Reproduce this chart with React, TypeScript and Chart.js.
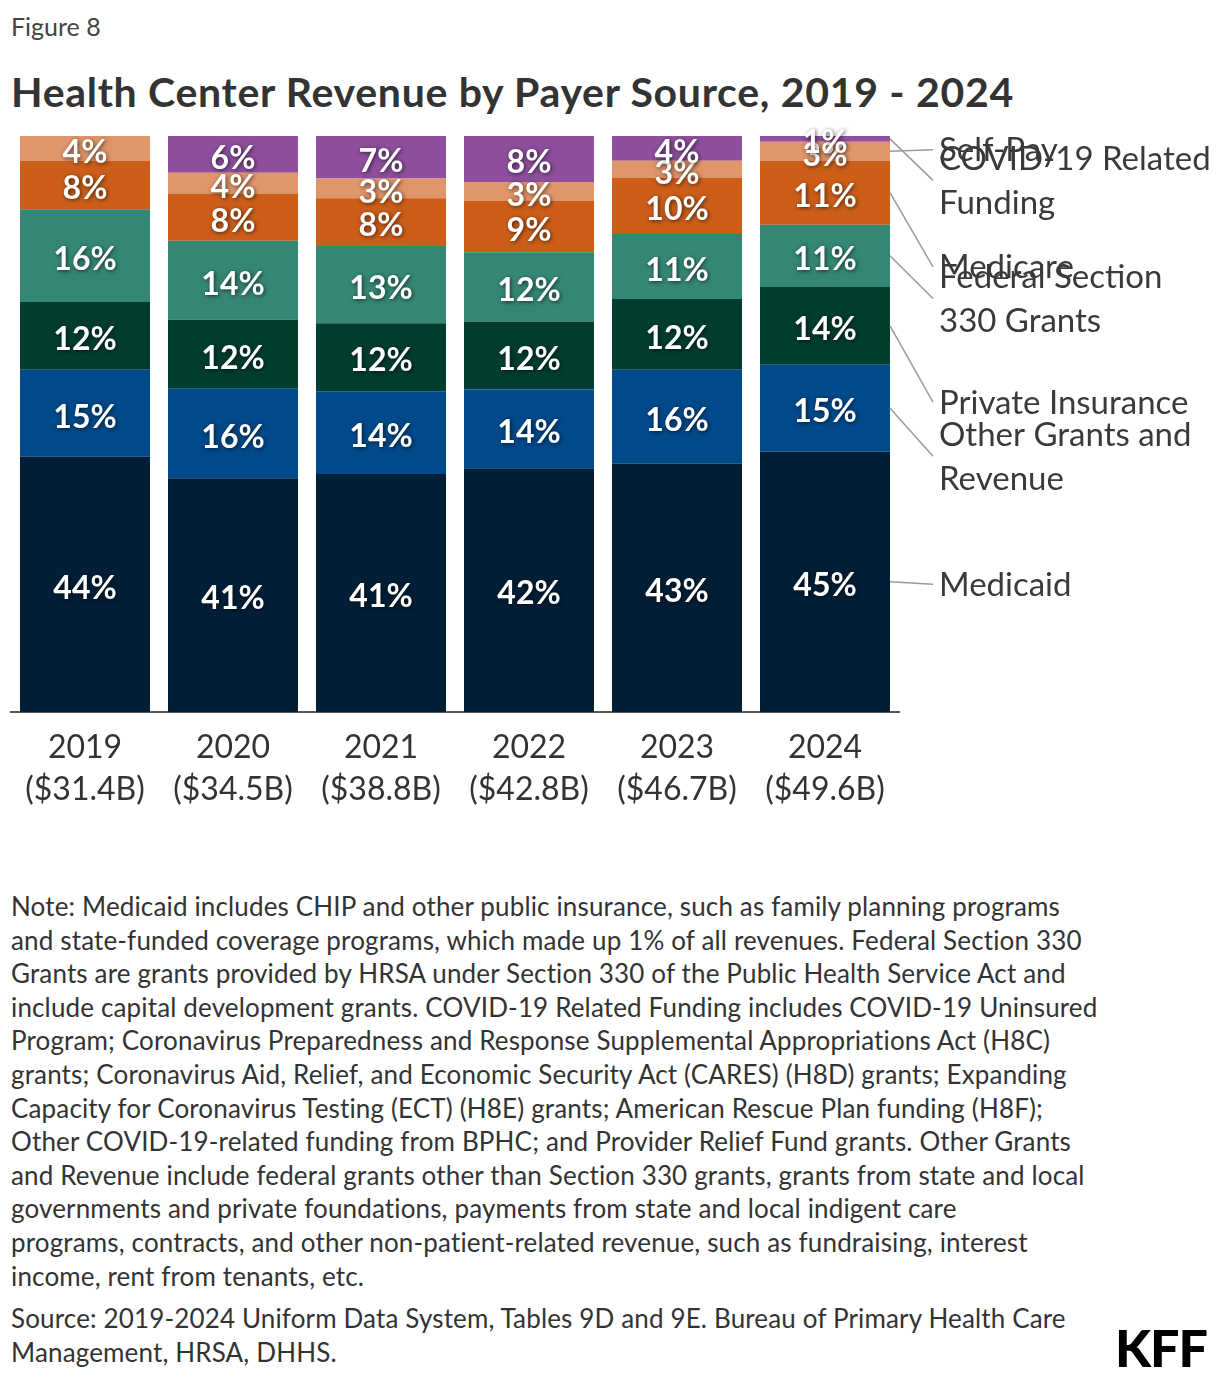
import React, { useEffect, useRef } from "react";
import { Chart, registerables } from "chart.js";

Chart.register(...registerables);

const categories = ["2019", "2020", "2021", "2022", "2023", "2024"];
const totals = ["($31.4B)", "($34.5B)", "($38.8B)", "($42.8B)", "($46.7B)", "($49.6B)"];

const medicaid = [44.3, 40.6, 41.3, 42.3, 43.1, 45.2];
const otherGrants = [15.1, 15.5, 14.4, 13.7, 16.3, 15.1];
const privateIns = [11.8, 12.0, 11.8, 11.8, 12.3, 13.5];
const federal330 = [16.1, 13.7, 13.4, 12.0, 11.3, 10.8];
const medicare = [8.4, 8.2, 8.3, 8.9, 9.7, 11.1];
const selfPay = [4.3, 3.6, 3.4, 3.3, 3.0, 3.3];
const covid = [0, 6.4, 7.4, 8.0, 4.3, 1.0];

const seriesNames = [
  ["Medicaid"],
  ["Other Grants and", "Revenue"],
  ["Private Insurance"],
  ["Federal Section", "330 Grants"],
  ["Medicare"],
  ["Self-Pay"],
  ["COVID-19 Related", "Funding"],
];
// where each side label sits, in y-axis units (percent of bar height)
const labelAnchors = [22.2, 44.4, 53.8, 71.8, 77.3, 97.6, 92.3];

const colors = ["#021f37", "#00498a", "#003d2f", "#358775", "#cc5e1a", "#e0956a", "#8e4f9d"];

const FONT = "Lato, 'Noto Sans', sans-serif";

const notes = [
  "Note: Medicaid includes CHIP and other public insurance, such as family planning programs",
  "and state-funded coverage programs, which made up 1% of all revenues. Federal Section 330",
  "Grants are grants provided by HRSA under Section 330 of the Public Health Service Act and",
  "include capital development grants. COVID-19 Related Funding includes COVID-19 Uninsured",
  "Program; Coronavirus Preparedness and Response Supplemental Appropriations Act (H8C)",
  "grants; Coronavirus Aid, Relief, and Economic Security Act (CARES) (H8D) grants; Expanding",
  "Capacity for Coronavirus Testing (ECT) (H8E) grants; American Rescue Plan funding (H8F);",
  "Other COVID-19-related funding from BPHC; and Provider Relief Fund grants. Other Grants",
  "and Revenue include federal grants other than Section 330 grants, grants from state and local",
  "governments and private foundations, payments from state and local indigent care",
  "programs, contracts, and other non-patient-related revenue, such as fundraising, interest",
  "income, rent from tenants, etc.",
];
const sourceLines = [
  "Source: 2019-2024 Uniform Data System, Tables 9D and 9E. Bureau of Primary Health Care",
  "Management, HRSA, DHHS.",
];

const valueLabels = {
  id: "valueLabels",
  afterDatasetsDraw(chart: any) {
    const ctx = chart.ctx;
    ctx.save();
    ctx.font = `bold 32px ${FONT}`;
    ctx.textAlign = "center";
    ctx.textBaseline = "middle";
    ctx.fillStyle = "#ffffff";
    ctx.shadowColor = "rgba(0,0,0,0.65)";
    ctx.shadowBlur = 4;
    ctx.shadowOffsetX = 1;
    ctx.shadowOffsetY = 1;
    chart.data.datasets.forEach((ds: any, di: number) => {
      const meta = chart.getDatasetMeta(di);
      meta.data.forEach((bar: any, i: number) => {
        const v = ds.data[i];
        if (!v) return;
        const cy = (bar.y + bar.base) / 2;
        ctx.fillText(Math.round(v) + "%", bar.x, cy + 4);
      });
    });
    ctx.restore();
  },
};

const sideLabels = {
  id: "sideLabels",
  afterDraw(chart: any) {
    const ctx = chart.ctx;
    const yScale = chart.scales.y;
    ctx.save();
    ctx.font = `33px ${FONT}`;
    ctx.textAlign = "left";
    ctx.textBaseline = "middle";
    const last = categories.length - 1;
    chart.data.datasets.forEach((ds: any, di: number) => {
      const meta = chart.getDatasetMeta(di);
      const bar: any = meta.data[last];
      if (!bar) return;
      const x0 = bar.x + bar.width / 2;
      const y0 = (bar.y + bar.base) / 2;
      const ly = yScale.getPixelForValue(labelAnchors[di]);
      const x1 = x0 + 43;
      ctx.strokeStyle = "#9a9a9a";
      ctx.lineWidth = 1.5;
      ctx.beginPath();
      ctx.moveTo(x0, y0);
      ctx.lineTo(x1, ly);
      ctx.stroke();
      const lines = seriesNames[di];
      const lh = 44;
      const startY = ly - ((lines.length - 1) * lh) / 2;
      ctx.fillStyle = "#3a3a3a";
      lines.forEach((t, k) => ctx.fillText(t, x1 + 6, startY + k * lh + 1));
    });
    ctx.restore();
  },
};

function RevenueChart() {
  const ref = useRef<HTMLCanvasElement | null>(null);
  useEffect(() => {
    if (!ref.current) return;
    const series = [medicaid, otherGrants, privateIns, federal330, medicare, selfPay, covid];
    const chart = new Chart(ref.current, {
      type: "bar",
      data: {
        labels: categories.map((c, i) => [c, totals[i]]),
        datasets: series.map((d, i) => ({
          label: seriesNames[i].join(" "),
          data: d,
          backgroundColor: colors[i],
          borderWidth: 0,
          categoryPercentage: 130 / 148,
          barPercentage: 1,
        })),
      },
      options: {
        animation: false,
        responsive: false,
        maintainAspectRatio: false,
        devicePixelRatio: 1,
        layout: { padding: { left: 11, right: 321, top: 16, bottom: 0 } },
        plugins: { legend: { display: false }, tooltip: { enabled: false } },
        scales: {
          x: {
            stacked: true,
            z: 1,
            grid: { display: false },
            border: { display: true, color: "#555555", width: 2 },
            ticks: {
              color: "#333333",
              font: { family: FONT, size: 32, lineHeight: 1.31 },
              padding: 7,
              maxRotation: 0,
            },
            afterFit: (scale: any) => {
              scale.height = 128;
            },
          },
          y: { stacked: true, display: false, min: 0, max: 100 },
        },
      } as any,
      plugins: [valueLabels, sideLabels],
    });
    return () => chart.destroy();
  }, []);
  return (
    <canvas
      ref={ref}
      width={1220}
      height={720}
      style={{ position: "absolute", left: 0, top: 120, width: 1220, height: 720 }}
    />
  );
}

export default function App() {
  return (
    <div
      style={{
        position: "absolute",
        left: 0,
        top: 0,
        width: 1220,
        height: 1380,
        background: "#ffffff",
        fontFamily: FONT,
        color: "#333333",
        overflow: "hidden",
      }}
    >
      <div style={{ position: "absolute", left: 11, top: 11, fontSize: 25, lineHeight: "30px", color: "#444" }}>
        Figure 8
      </div>
      <div
        style={{
          position: "absolute",
          left: 11,
          top: 68,
          fontSize: 41,
          lineHeight: "48px",
          fontWeight: 700,
          color: "#333",
          whiteSpace: "nowrap",
          letterSpacing: 0.7,
        }}
      >
        Health Center Revenue by Payer Source, 2019 - 2024
      </div>
      <RevenueChart />
      <div
        style={{
          position: "absolute",
          left: 11,
          top: 890,
          fontSize: 26,
          lineHeight: "33.6px",
          letterSpacing: 0.15,
          whiteSpace: "nowrap",
        }}
      >
        {notes.map((n, i) => (
          <div key={i}>{n}</div>
        ))}
      </div>
      <div
        style={{
          position: "absolute",
          left: 11,
          top: 1302,
          fontSize: 26,
          lineHeight: "33.6px",
          letterSpacing: 0.15,
          whiteSpace: "nowrap",
        }}
      >
        {sourceLines.map((n, i) => (
          <div key={i}>{n}</div>
        ))}
      </div>
      <div
        style={{
          position: "absolute",
          right: 13,
          top: 1321,
          fontSize: 52,
          lineHeight: "52px",
          fontWeight: 900,
          color: "#000",
          letterSpacing: -1,
        }}
      >
        KFF
      </div>
    </div>
  );
}
